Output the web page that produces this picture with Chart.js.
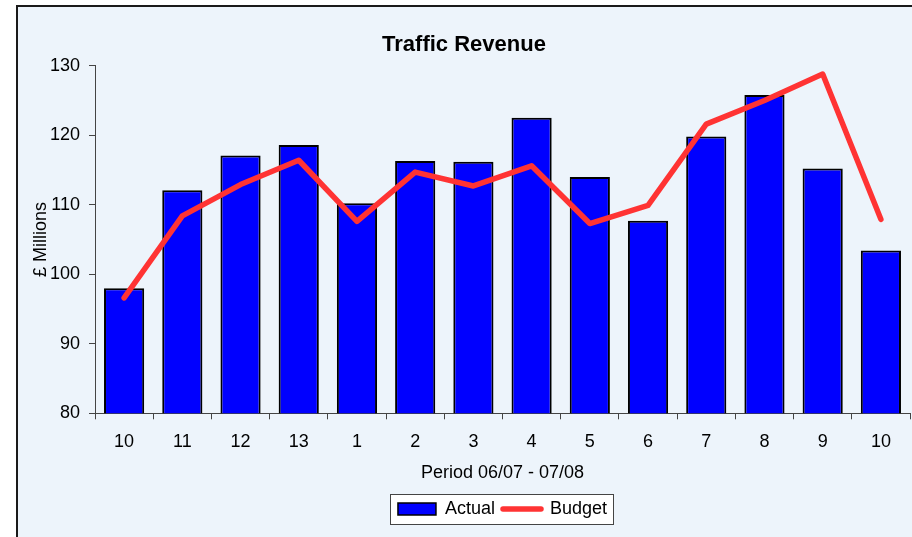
<!DOCTYPE html>
<html><head><meta charset="utf-8">
<script src="https://cdn.jsdelivr.net/npm/chart.js@4"></script>
<style>
html,body{margin:0;padding:0;background:#fff;overflow:hidden;width:912px;height:537px;}
#frame{position:absolute;left:16px;top:5px;width:898px;height:541px;border:2px solid #1a1a1a;background:#EDF4FB;}
canvas{display:block;}
</style></head><body>
<div id="frame"><canvas id="c" width="898" height="541"></canvas></div>
<script>
const categories = ['10','11','12','13','1','2','3','4','5','6','7','8','9','10'];
const actual = [98.0,112.1,117.1,118.6,110.2,116.3,116.2,122.5,114.0,107.7,119.8,125.8,115.2,103.4];
const budget = [96.6,108.4,112.9,116.4,107.6,114.7,112.7,115.6,107.3,109.9,121.6,125.0,128.8,107.9];
const yMin = 80, yMax = 130, yStep = 10;
const seriesNames = ['Actual','Budget'];
const chartTitle = 'Traffic Revenue';
const xTitle = 'Period 06/07 - 07/08';
const yTitle = '£ Millions';

const FONT = "'Liberation Sans', Arial, sans-serif";
Chart.defaults.font.family = FONT;
Chart.defaults.color = '#000';

const legendBox = {
  id: 'legendBox',
  beforeDraw(chart) {
    const lg = chart.legend;
    if (!lg || !lg.legendHitBoxes || !lg.legendHitBoxes.length) return;
    const hb = lg.legendHitBoxes;
    const l = Math.min(...hb.map(h => h.left));
    const r = Math.max(...hb.map(h => h.left + h.width));
    const t = Math.min(...hb.map(h => h.top));
    const b = Math.max(...hb.map(h => h.top + h.height));
    const ctx = chart.ctx;
    ctx.save();
    const x0 = Math.round(l - 8) + 0.5, y0 = Math.round(t - 6) + 0.5;
    const w = Math.round(r - l + 14), h = Math.round(b - t + 12);
    ctx.fillStyle = '#fff';
    ctx.fillRect(x0, y0, w, h);
    ctx.strokeStyle = '#444';
    ctx.lineWidth = 1;
    ctx.strokeRect(x0, y0, w, h);
    ctx.restore();
  }
};

new Chart(document.getElementById('c'), {
  type: 'bar',
  data: {
    labels: categories,
    datasets: [
      {
        type: 'bar', label: seriesNames[0], data: actual, order: 2,
        backgroundColor: '#0000FF', borderColor: '#000', borderWidth: 2,
        barPercentage: 0.69, categoryPercentage: 1.0
      },
      {
        type: 'line', label: seriesNames[1], data: budget, order: 1,
        borderColor: '#FF3333', borderWidth: 5.5, pointRadius: 0, tension: 0,
        borderCapStyle: 'round', borderJoinStyle: 'round', fill: false
      }
    ]
  },
  options: {
    responsive: false, animation: false, events: [],
    layout: { padding: { left: 0, right: 6, top: 0, bottom: 20 } },
    plugins: {
      tooltip: { enabled: false },
      title: {
        display: true, text: chartTitle, color: '#000',
        font: { family: FONT, size: 22, weight: 'bold' },
        padding: { top: 24.8, bottom: 7.5 }
      },
      legend: {
        display: true, position: 'bottom', fullSize: false,
        labels: {
          usePointStyle: true, pointStyleWidth: 38, boxHeight: 12, padding: 8,
          color: '#000', font: { family: FONT, size: 18 },
          generateLabels: () => [
            { text: seriesNames[0], fillStyle: '#0000FF', strokeStyle: '#000', lineWidth: 1.5, pointStyle: 'rect', datasetIndex: 0, hidden: false, fontColor: '#000' },
            { text: seriesNames[1], fillStyle: '#FF3333', strokeStyle: '#FF3333', lineWidth: 5.5, lineCap: 'round', pointStyle: 'line', datasetIndex: 1, hidden: false, fontColor: '#000' }
          ]
        }
      }
    },
    scales: {
      x: {
        offset: true,
        grid: { display: true, offset: true, drawOnChartArea: false, drawTicks: true, tickLength: 6, color: '#444' },
        border: { display: true, color: '#444', width: 1 },
        ticks: { padding: 11.6, color: '#000', font: { family: FONT, size: 18 }, maxRotation: 0, autoSkip: false },
        title: { display: true, text: xTitle, color: '#000', font: { family: FONT, size: 18 }, padding: { top: 0, bottom: 8.2 } },
        afterFit(scale) { scale.height = 78.7; }
      },
      y: {
        min: yMin, max: yMax,
        grid: { display: true, drawOnChartArea: false, drawTicks: true, tickLength: 6, color: '#444' },
        border: { display: true, color: '#444', width: 1 },
        ticks: { stepSize: yStep, padding: 9, color: '#000', font: { family: FONT, size: 18 } },
        title: { display: true, text: yTitle, color: '#000', font: { family: FONT, size: 18 }, padding: { top: 12.5, bottom: 0 } },
        afterFit(scale) { scale.width = 77; }
      }
    }
  },
  plugins: [legendBox]
});
</script>
</body></html>
